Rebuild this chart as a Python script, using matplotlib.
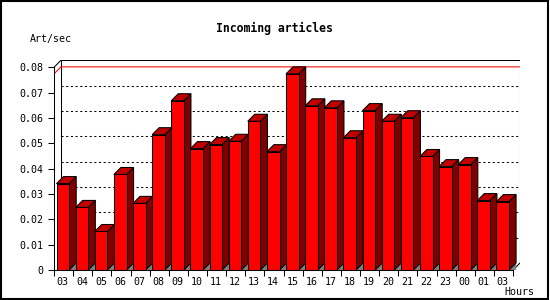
#!/usr/bin/env python3
import numpy as np
import matplotlib
matplotlib.use("Agg")
import matplotlib.pyplot as plt
from matplotlib.patches import Polygon, Rectangle

hours = ["03", "04", "05", "06", "07", "08", "09", "10", "11", "12", "13", "14",
         "15", "16", "17", "18", "19", "20", "21", "22", "23", "00", "01", "03"]
art_sec = [0.0341, 0.0247, 0.0152, 0.0377, 0.0263, 0.0534, 0.0668, 0.0479,
           0.0495, 0.0508, 0.0587, 0.0467, 0.0774, 0.0648, 0.0640, 0.0522,
           0.0629, 0.0587, 0.0601, 0.0448, 0.0408, 0.0416, 0.0274, 0.0270]
y_ticks = [0, 0.01, 0.02, 0.03, 0.04, 0.05, 0.06, 0.07, 0.08]
y_labels = ["0", "0.01", "0.02", "0.03", "0.04", "0.05", "0.06", "0.07", "0.08"]

# pixel geometry of the reference (550x300)
W, H = 550, 300
slot = 19.125          # px per hour
px_per_val = 2534.0    # px per 1.0 art/sec
depth = 7.0            # 3d offset in px
dx = depth / slot
dy = depth / px_per_val
bw = 12.7 / slot
boff = 2.5 / slot

FRONT = "#ff0000"
SIDE = "#800000"
TOP = "#c00000"
FLOOR = "#808080"
mono = "DejaVu Sans Mono"

fig = plt.figure(figsize=(W / 100, H / 100), dpi=100)
fig.patches.append(Rectangle((0.001, 0.004), 0.995, 0.993, transform=fig.transFigure,
                             fill=False, ec="black", lw=1.5))

left_px, right_px, top_px, bot_px = 54, 520, 60, 270
ax = fig.add_axes([left_px / W, 1 - bot_px / H, (right_px - left_px) / W, (bot_px - top_px) / H])
n = len(hours)
xmax = (right_px - left_px) / slot - 0.5
ymax = (bot_px - top_px) / px_per_val
ax.set_xlim(-0.5, xmax)
ax.set_ylim(0, ymax)
ax.patch.set_visible(False)

lw = 0.75
# back wall frame
bx0 = -0.5 + dx
ax.plot([bx0, bx0, xmax, xmax], [dy, ymax, ymax, dy], color="black", lw=lw, zorder=1)
ax.plot([-0.5, bx0], [0.08, 0.08 + dy], color="black", lw=lw, zorder=1)
ax.plot([n - 0.5, xmax], [0, dy], color="black", lw=lw, zorder=1)
# dotted grid on the back wall
for v in y_ticks[1:-1]:
    ax.plot([bx0, xmax], [v + dy, v + dy], color="black", lw=lw, ls=(0, (2, 2.5)), zorder=1)
# max line
m = max(art_sec)
ax.plot([-0.5, bx0, xmax], [m, m + dy, m + dy], color="red", lw=lw, zorder=1.5)

# 3d bars
for i, v in enumerate(art_sec):
    x0 = i - 0.5 + boff
    x1 = x0 + bw
    ax.add_patch(Polygon([(x1, 0), (x1 + dx, dy), (x1 + dx, 0)], closed=True,
                         fc=FLOOR, ec="none", zorder=2))
    ax.add_patch(Polygon([(x1, 0), (x1 + dx, dy), (x1 + dx, v + dy), (x1, v)], closed=True,
                         fc=SIDE, ec="black", lw=lw, zorder=2))
    ax.add_patch(Polygon([(x0, v), (x1, v), (x1 + dx, v + dy), (x0 + dx, v + dy)], closed=True,
                         fc=TOP, ec="black", lw=lw, zorder=2))
    ax.add_patch(Rectangle((x0, 0), bw, v, fc=FRONT, ec="black", lw=lw, zorder=2.5))

for s in ["top", "right"]:
    ax.spines[s].set_visible(False)
ax.spines["left"].set_bounds(0, 0.08)
ax.spines["bottom"].set_bounds(-0.5, n - 0.5)
ax.spines["left"].set_linewidth(lw)
ax.spines["bottom"].set_linewidth(lw)
ax.spines["bottom"].set_zorder(3)

ax.set_yticks(y_ticks)
ax.set_yticklabels(y_labels, fontfamily=mono, fontsize=7.2)
ax.set_xticks(np.arange(n + 1) - 0.5)
ax.set_xticklabels([])
ax.set_xticks(np.arange(n) - 0.5 + boff + bw / 2, minor=True)
ax.set_xticklabels(hours, minor=True, fontfamily=mono, fontsize=7.2)
ax.tick_params(axis="both", which="major", direction="out", length=4, width=lw, pad=3.5)
ax.tick_params(axis="x", which="minor", length=0, pad=5)

fig.text(274 / W, 1 - 28 / H, "Incoming articles", ha="center", va="center",
         fontfamily=mono, fontsize=8.3, fontweight="bold")
fig.text(30 / W, 1 - 39 / H, "Art/sec", ha="left", va="center", fontfamily=mono, fontsize=7.2)
fig.text(534 / W, 1 - 292 / H, "Hours", ha="right", va="center", fontfamily=mono, fontsize=7.2)

fig.savefig("out.png", dpi=100)
